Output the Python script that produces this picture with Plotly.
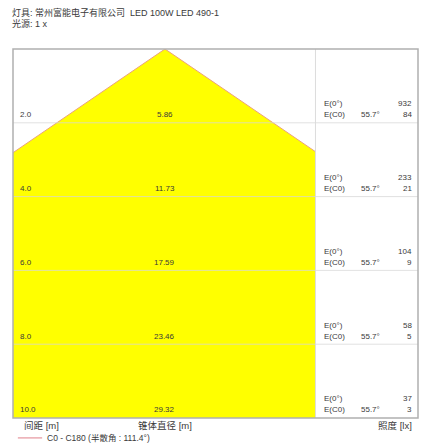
import math
import plotly.graph_objects as go

# ---- data ----
distances = [2.0, 4.0, 6.0, 8.0, 10.0]
diameters = [5.86, 11.73, 17.59, 23.46, 29.32]
e_center = [932, 233, 104, 58, 37]
e_c0 = [84, 21, 9, 5, 3]
half_angle = 55.7
full_angle = 111.4
luminaire = "灯具: 常州富能电子有限公司  LED 100W LED 490-1"
lamp = "光源: 1 x"

FONT = "Liberation Sans, Arial, Noto Sans CJK SC, sans-serif"
W_L, W_R = 4.12, 4.08   # visible half widths of cone area (m)
X_MAX = 6.86
D_MAX = max(distances)

t = math.tan(math.radians(half_angle))
fig = go.Figure()

# yellow cone fill
cx = [-W_L, -W_L, 0, W_R, W_R, -W_L]
cy = [D_MAX, W_L / t, 0, W_R / t, D_MAX, D_MAX]
fig.add_trace(go.Scatter(x=cx, y=cy, mode="lines", fill="toself",
                         fillcolor="#ffff00", line=dict(width=0, color="#ffff00"),
                         hoverinfo="skip", showlegend=False))
# cone edges
fig.add_trace(go.Scatter(x=[-W_L, 0, W_R], y=[W_L / t, 0, W_R / t], mode="lines",
                         line=dict(color="#eba27a", width=1),
                         hoverinfo="skip", showlegend=False))

shapes = []
for d in distances[:-1]:
    shapes.append(dict(type="line", xref="paper", yref="y", x0=0, x1=1, y0=d, y1=d,
                       line=dict(color="rgba(215,215,215,0.75)", width=1), layer="above"))
# right panel separator
shapes.append(dict(type="line", xref="x", yref="paper", x0=W_R, x1=W_R, y0=0, y1=1,
                   line=dict(color="#dcdcdc", width=1), layer="above"))
# frame
shapes.append(dict(type="rect", xref="paper", yref="paper", x0=0, x1=1, y0=0, y1=1,
                   line=dict(color="#b0b0b0", width=1.5), layer="above"))
# legend line
shapes.append(dict(type="line", xref="paper", yref="paper", x0=0.012, x1=0.072,
                   y0=-0.054, y1=-0.054, line=dict(color="#e07f8a", width=1)))

ann = []
def txt(x, y, s, xanchor="left", xref="paper", yref="y", size=8, yanchor="middle"):
    ann.append(dict(x=x, y=y, xref=xref, yref=yref, text=s, showarrow=False,
                    xanchor=xanchor, yanchor=yanchor,
                    font=dict(family=FONT, size=size, color="#3a3a3a")))

for d, dia, e0, ec in zip(distances, diameters, e_center, e_c0):
    txt(0.012, d - 0.22, f"{d:.1f}")
    txt(0.0, d - 0.22, f"{dia:.2f}", xanchor="center", xref="x")
    txt(0.763, d - 0.52, "E(0°)")
    txt(0.763, d - 0.22, "E(C0)")
    txt(0.855, d - 0.22, f"{half_angle}°")
    txt(0.99, d - 0.52, f"{e0}", xanchor="right")
    txt(0.99, d - 0.22, f"{ec}", xanchor="right")

txt(0.022, -0.02, "间距 [m]", yref="paper", size=9.5)
txt(0.0, -0.02, "锥体直径 [m]", xanchor="center", xref="x", yref="paper", size=9.5)
txt(0.99, -0.02, "照度 [lx]", xanchor="right", yref="paper", size=9.5)
txt(0.08, -0.054, f"C0 - C180 (半散角 : {full_angle}°)", yref="paper", size=8.5)
txt(-0.007, 1.100, luminaire, yref="paper", size=9)
txt(-0.007, 1.070, lamp, yref="paper", size=9)

fig.update_layout(
    width=421, height=446,
    margin=dict(l=13, r=3, t=49, b=28),
    paper_bgcolor="white", plot_bgcolor="white",
    xaxis=dict(range=[-W_L, X_MAX], visible=False, fixedrange=True),
    yaxis=dict(range=[D_MAX, 0], visible=False, fixedrange=True),
    shapes=shapes, annotations=ann, showlegend=False,
)
fig.write_html("out.html", config={"displayModeBar": False},
               post_script="document.body.style.margin='0';")
